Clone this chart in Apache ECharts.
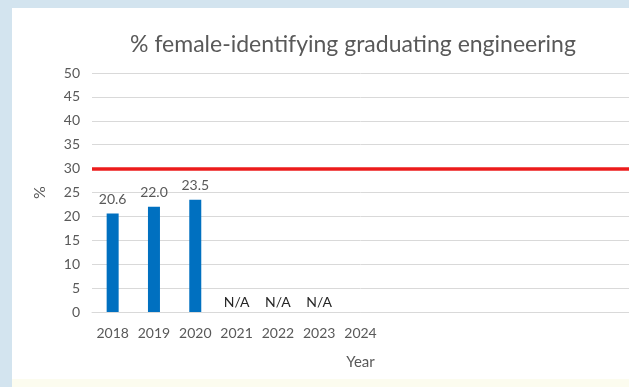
<!DOCTYPE html>
<html>
<head>
<meta charset="utf-8">
<script src="https://cdn.jsdelivr.net/npm/echarts@6/dist/echarts.min.js"></script>
<style>
  html, body { margin: 0; padding: 0; width: 629px; height: 387px; overflow: hidden; background: #d3e4ef; }
  #panel { position: absolute; left: 12px; top: 8px; width: 617px; height: 372px; background: #ffffff; }
  #strip { position: absolute; left: 12px; top: 379px; width: 617px; height: 8px; background: #fcfcef; }
  #chart { position: absolute; left: 0; top: 0; width: 629px; height: 387px; }
</style>
</head>
<body>
<div id="panel"></div>
<div id="strip"></div>
<div id="chart"></div>
<script>
// ---- data ----
const titleText = '% female-identifying graduating engineering';
const years = ['2018', '2019', '2020', '2021', '2022', '2023', '2024', '', '', '', '', '', ''];
const femalePct = [20.6, 22.0, 23.5, null, null, null, null, null, null, null, null, null, null];
const notAvailable = [null, null, null, 0, 0, 0, null, null, null, null, null, null, null];
const targetPct = 30;
const yTicks = { min: 0, max: 50, step: 5 };

const chart = echarts.init(document.getElementById('chart'), null, { renderer: 'canvas' });
const FONT = 'Lato';
const GREY = '#595959';

chart.setOption({
  backgroundColor: 'transparent',
  animation: false,
  title: {
    text: titleText,
    left: 348, top: 28, textAlign: 'center',
    textStyle: { fontFamily: FONT, fontSize: 23, fontWeight: 'normal', color: GREY }
  },
  grid: { left: 92, right: 0, top: 73, bottom: 75, containLabel: false },
  xAxis: {
    type: 'category',
    data: years,
    name: 'Year',
    nameLocation: 'middle',
    nameGap: 43,
    nameTextStyle: { fontFamily: FONT, fontSize: 15, color: GREY },
    axisLine: { show: true, lineStyle: { color: '#d9d9d9', width: 1 } },
    axisTick: { show: false },
    axisLabel: { fontFamily: FONT, fontSize: 14, color: GREY, margin: 14, interval: 0 }
  },
  yAxis: {
    type: 'value',
    min: yTicks.min, max: yTicks.max, interval: yTicks.step,
    name: '%',
    nameLocation: 'middle',
    nameGap: 44,
    nameRotate: 90,
    nameTextStyle: { fontFamily: FONT, fontSize: 16, color: GREY },
    axisLine: { show: false },
    axisTick: { show: false },
    axisLabel: { fontFamily: FONT, fontSize: 14, color: GREY, margin: 12 },
    splitLine: { show: true, lineStyle: { color: '#d9d9d9', width: 1 } }
  },
  series: [
    {
      name: 'Female-identifying graduates',
      type: 'bar',
      data: femalePct,
      barWidth: 12,
      itemStyle: { color: '#0070c0' },
      label: {
        show: true, position: 'top', distance: 7,
        fontFamily: FONT, fontSize: 14, color: GREY,
        formatter: p => p.value == null ? '' : Number(p.value).toFixed(1)
      },
      markLine: {
        silent: true,
        symbol: ['none', 'none'],
        label: { show: false },
        lineStyle: { color: '#ec1c1c', width: 3.5, type: 'solid' },
        data: [{ yAxis: targetPct }]
      }
    },
    {
      name: 'N/A',
      type: 'bar',
      data: notAvailable,
      barWidth: 12,
      barGap: '-100%',
      itemStyle: { color: 'transparent' },
      label: {
        show: true, position: 'top', distance: 3,
        fontFamily: FONT, fontSize: 14, color: '#262626',
        formatter: () => 'N/A'
      }
    }
  ]
});
</script>
</body>
</html>
